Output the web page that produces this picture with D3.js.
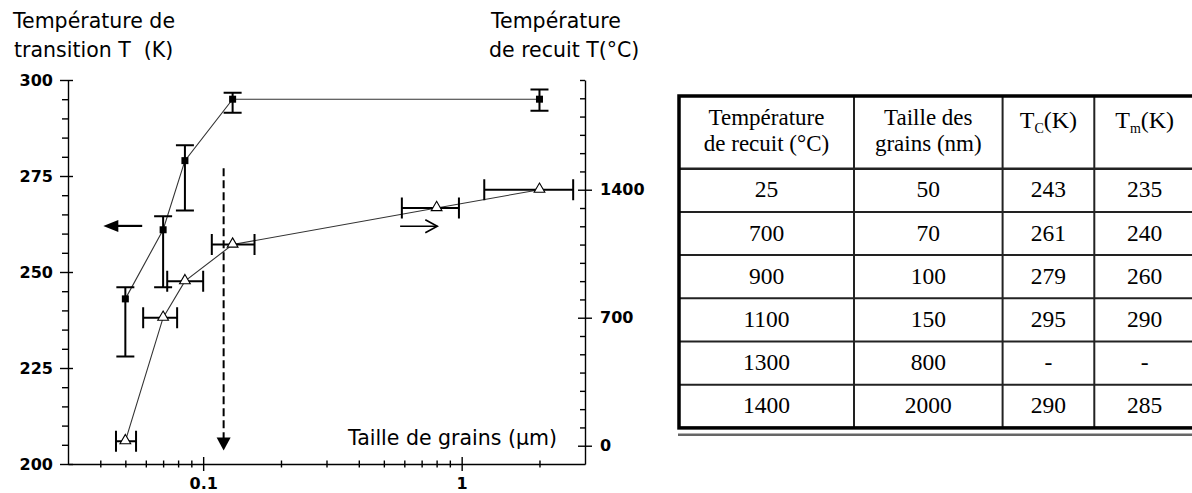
<!DOCTYPE html>
<html>
<head>
<meta charset="utf-8">
<script src="https://cdn.jsdelivr.net/npm/d3@7"></script>
<style>
  body { margin: 0; background: #fff; }
  svg { display: block; }
</style>
</head>
<body>
<svg id="chart" width="1192" height="493"></svg>
<script>
// Transition temperature (K) vs grain size (µm), with vertical error bars
const grainSize      = [0.05, 0.07, 0.085, 0.13, 2];
const transitionT    = [243, 261, 279, 295, 295];
const transitionLow  = [228, 246, 266, 291.5, 292];
const transitionHigh = [246, 264.5, 283, 296.7, 297.5];

// Annealing temperature (°C) vs grain size (µm), with horizontal error bars
const annealGrain     = [0.05, 0.07, 0.085, 0.13, 0.8, 2];
const annealT         = [25, 700, 900, 1100, 1300, 1400];
const annealGrainLow  = [0.046, 0.0586, 0.0726, 0.108, 0.587, 1.223];
const annealGrainHigh = [0.055, 0.0793, 0.1, 0.158, 0.976, 2.7];

// Axis ticks
const leftTicks  = [200, 225, 250, 275, 300];
const rightTicks = [0, 700, 1400];
const xTicks     = [0.1, 1];
const xTickLabels = ["0.1", "1"];

// Annotation arrows, in data units
const arrowToLeft  = { x0: 0.0581, x1: 0.0411, t: 262 };     // K axis
const arrowToRight = { x0: 0.578, x1: 0.805, t: 1200 };      // °C axis
const criticalSize = { x: 0.12, t0: 277, t1: 203.5 };        // K axis

// Table
const tableHead1 = ["Température", "Taille des"];
const tableHead2 = ["de recuit (°C)", "grains (nm)"];
const tableAnneal = ["25", "700", "900", "1100", "1300", "1400"];
const tableGrain  = ["50", "70", "100", "150", "800", "2000"];
const tableTc     = ["243", "261", "279", "295", "-", "290"];
const tableTm     = ["235", "240", "260", "290", "-", "285"];

const svg = d3.select("#chart");
svg.append("rect").attr("width", 1192).attr("height", 493).attr("fill", "#fff");

const SANS = "'DejaVu Sans', sans-serif";
const SERIF = "'Liberation Serif', 'Times New Roman', serif";

const plot = { left: 68, right: 585, top: 80, bottom: 464 };

const x = d3.scaleLog().domain([0.03, 3]).range([plot.left, plot.right]);
const yL = d3.scaleLinear().domain([200, 300]).range([plot.bottom, plot.top]);
const yR = d3.scaleLinear().domain([-100, 2000]).range([plot.bottom, plot.top]);

// ---- axes ----
function styleAxis(g) {
  g.selectAll("path.domain").attr("stroke", "#000").attr("stroke-width", 1.4);
  g.selectAll(".tick line").attr("stroke", "#000").attr("stroke-width", 1.4);
  g.selectAll(".tick text")
    .attr("fill", "#000")
    .style("font-family", SANS)
    .style("font-size", "16px")
    .style("font-weight", "bold");
}

// left (K)
const minorLeft = d3.range(200, 301, 5).filter(v => v % 25 !== 0);
svg.append("g")
  .attr("transform", `translate(${plot.left},0)`)
  .call(d3.axisLeft(yL).tickValues(minorLeft).tickSize(6).tickFormat(""))
  .call(g => g.select(".domain").remove())
  .call(styleAxis);
svg.append("g")
  .attr("transform", `translate(${plot.left},0)`)
  .call(d3.axisLeft(yL).tickValues(leftTicks).tickSize(8).tickSizeOuter(0).tickPadding(7))
  .call(styleAxis)
  .call(g => g.selectAll(".tick line").attr("x1", 5));

// right (°C)
const minorRight = d3.range(100, 2001, 100).filter(v => !rightTicks.includes(v));
svg.append("g")
  .attr("transform", `translate(${plot.right},0)`)
  .call(d3.axisLeft(yR).tickValues(minorRight).tickSize(5).tickFormat(""))
  .call(g => g.select(".domain").remove())
  .call(styleAxis);
svg.append("g")
  .attr("transform", `translate(${plot.right},0)`)
  .call(d3.axisRight(yR).tickValues(rightTicks).tickSize(7).tickSizeOuter(0).tickPadding(8)
        .tickFormat(d3.format("d")))
  .call(styleAxis)
  .call(g => g.selectAll(".tick line").attr("x1", -7));

// bottom (µm, log)
const minorX = [0.04, 0.05, 0.06, 0.07, 0.08, 0.09, 0.2, 0.3, 0.4, 0.5, 0.6, 0.7, 0.8, 0.9, 2];
svg.append("g")
  .attr("transform", `translate(0,${plot.bottom})`)
  .call(d3.axisBottom(x).tickValues(minorX).tickSize(3.5).tickFormat(""))
  .call(g => g.select(".domain").remove())
  .call(styleAxis)
  .call(g => g.selectAll(".tick line").attr("y1", -3.5));
svg.append("g")
  .attr("transform", `translate(0,${plot.bottom})`)
  .call(d3.axisBottom(x).tickValues(xTicks).tickSize(7).tickSizeOuter(0).tickPadding(7)
        .tickFormat((d, i) => xTickLabels[i]))
  .call(styleAxis)
  .call(g => g.selectAll(".tick line").attr("y1", -7));

// ---- titles ----
const titles = svg.append("g")
  .style("font-family", SANS).style("font-size", "20.5px").attr("fill", "#000");
titles.append("text").attr("x", 13).attr("y", 28).text("Température de");
titles.append("text").attr("x", 14).attr("y", 57).text("transition T\u00A0\u00A0(K)");
titles.append("text").attr("x", 491).attr("y", 28).text("Température");
titles.append("text").attr("x", 489).attr("y", 57).text("de recuit T(°C)");
titles.append("text").attr("x", 348).attr("y", 445).text("Taille de grains (µm)");

// ---- annealing temperature series ----
const annealPts = annealGrain.map((g, i) => ({
  g, t: annealT[i], lo: annealGrainLow[i], hi: annealGrainHigh[i]
}));
svg.append("path")
  .datum(annealPts)
  .attr("fill", "none").attr("stroke", "#333").attr("stroke-width", 1.1)
  .attr("d", d3.line().x(d => x(d.g)).y(d => yR(d.t)));

const hBars = svg.append("g").attr("stroke", "#000").attr("stroke-width", 2).attr("fill", "none");
hBars.selectAll("path").data(annealPts).join("path")
  .attr("d", d => {
    const y0 = yR(d.t), a = x(d.lo), b = x(d.hi), c = 10.5;
    return `M${a},${y0}H${b}M${a},${y0 - c}V${y0 + c}M${b},${y0 - c}V${y0 + c}`;
  });

svg.append("g").selectAll("path").data(annealPts).join("path")
  .attr("transform", d => `translate(${x(d.g)},${yR(d.t) - 0.5})`)
  .attr("d", d3.symbol(d3.symbolTriangle, 50))
  .attr("fill", "#fff").attr("stroke", "#000").attr("stroke-width", 1.1);

// ---- transition temperature series ----
const transPts = grainSize.map((g, i) => ({
  g, t: transitionT[i], lo: transitionLow[i], hi: transitionHigh[i]
}));
svg.append("path")
  .datum(transPts)
  .attr("fill", "none").attr("stroke", "#333").attr("stroke-width", 1.1)
  .attr("d", d3.line().x(d => x(d.g)).y(d => yL(d.t)));

const vBars = svg.append("g").attr("stroke", "#000").attr("stroke-width", 2).attr("fill", "none");
vBars.selectAll("path").data(transPts).join("path")
  .attr("d", d => {
    const x0 = x(d.g), a = yL(d.lo), b = yL(d.hi), c = 9;
    return `M${x0},${a}V${b}M${x0 - c},${a}H${x0 + c}M${x0 - c},${b}H${x0 + c}`;
  });

svg.append("g").selectAll("rect").data(transPts).join("rect")
  .attr("x", d => x(d.g) - 3.5).attr("y", d => yL(d.t) - 3.5)
  .attr("width", 7).attr("height", 7).attr("fill", "#000");

// ---- annotation arrows ----
const ann = svg.append("g");
{
  const xa = x(arrowToLeft.x0), xb = x(arrowToLeft.x1), y0 = yL(arrowToLeft.t);
  ann.append("line").attr("x1", xa).attr("x2", xb + 12).attr("y1", y0).attr("y2", y0)
    .attr("stroke", "#000").attr("stroke-width", 2.2);
  ann.append("path").attr("d", `M${xb},${y0}L${xb + 15},${y0 - 6}L${xb + 15},${y0 + 6}Z`).attr("fill", "#000");
}
{
  const xa = x(arrowToRight.x0), xb = x(arrowToRight.x1), y0 = yR(arrowToRight.t);
  ann.append("line").attr("x1", xa).attr("x2", xb).attr("y1", y0).attr("y2", y0)
    .attr("stroke", "#000").attr("stroke-width", 1.6);
  ann.append("path").attr("d", `M${xb - 12},${y0 - 6.5}L${xb},${y0}L${xb - 12},${y0 + 6.5}`)
    .attr("fill", "none").attr("stroke", "#000").attr("stroke-width", 1.6);
}
{
  const x0 = x(criticalSize.x), ya = yL(criticalSize.t0), yb = yL(criticalSize.t1);
  ann.append("line").attr("x1", x0).attr("x2", x0).attr("y1", ya).attr("y2", yb - 12)
    .attr("stroke", "#000").attr("stroke-width", 2).attr("stroke-dasharray", "8,4");
  ann.append("path").attr("d", `M${x0 - 7},${yb - 13}L${x0 + 7},${yb - 13}L${x0},${yb}Z`).attr("fill", "#000");
}

// ---- table ----
const colEdges = [679, 854, 1002.6, 1094.3, 1195];
const headTop = 96, headBottom = 168.7, rowH = 43.2;
const rows = tableAnneal.map((a, i) => [a, tableGrain[i], tableTc[i], tableTm[i]]);
const tableBottom = headBottom + rowH * rows.length;
const colCenter = i => (colEdges[i] + colEdges[i + 1]) / 2;

const tbl = svg.append("g").style("font-family", SERIF).style("font-size", "23.5px").attr("fill", "#000");

// inner grid lines
const grid = tbl.append("g").attr("stroke", "#222").attr("stroke-width", 2);
colEdges.slice(1, -1).forEach(cx =>
  grid.append("line").attr("x1", cx).attr("x2", cx).attr("y1", headTop).attr("y2", tableBottom));
d3.range(rows.length).forEach(i => {
  const yy = headBottom + rowH * i;
  grid.append("line").attr("x1", colEdges[0]).attr("x2", colEdges[4]).attr("y1", yy).attr("y2", yy)
    .attr("stroke-width", i === 0 ? 2.4 : 2);
});
// outer frame
tbl.append("rect")
  .attr("x", colEdges[0]).attr("y", headTop)
  .attr("width", colEdges[4] - colEdges[0]).attr("height", tableBottom - headTop)
  .attr("fill", "none").attr("stroke", "#000").attr("stroke-width", 3.5);
tbl.append("line")
  .attr("x1", colEdges[0] - 1).attr("x2", 1192).attr("y1", tableBottom + 6.8).attr("y2", tableBottom + 6.8)
  .attr("stroke", "#666").attr("stroke-width", 2.5);

// header: two-line cells
const head = tbl.append("g").style("font-size", "23px");
tableHead1.forEach((t, i) =>
  head.append("text").attr("x", colCenter(i)).attr("y", 124.5).attr("text-anchor", "middle").text(t));
tableHead2.forEach((t, i) =>
  head.append("text").attr("x", colCenter(i)).attr("y", 151).attr("text-anchor", "middle").text(t));
[["T", "C", "(K)"], ["T", "m", "(K)"]].forEach(([a, sub, b], k) => {
  const tx = head.append("text").attr("x", colCenter(2 + k)).attr("y", 127.5)
    .attr("text-anchor", "middle").style("font-size", "24px");
  tx.append("tspan").text(a);
  tx.append("tspan").attr("dy", 5).style("font-size", "14px").text(sub);
  tx.append("tspan").attr("dy", -5).text(b);
});

// body
tbl.selectAll("g.row").data(rows).join("g").attr("class", "row")
  .attr("transform", (d, i) => `translate(0,${headBottom + rowH * i + rowH / 2 + 7})`)
  .selectAll("text").data(d => d).join("text")
  .attr("x", (d, j) => colCenter(j)).attr("text-anchor", "middle").text(d => d);
</script>
</body>
</html>
